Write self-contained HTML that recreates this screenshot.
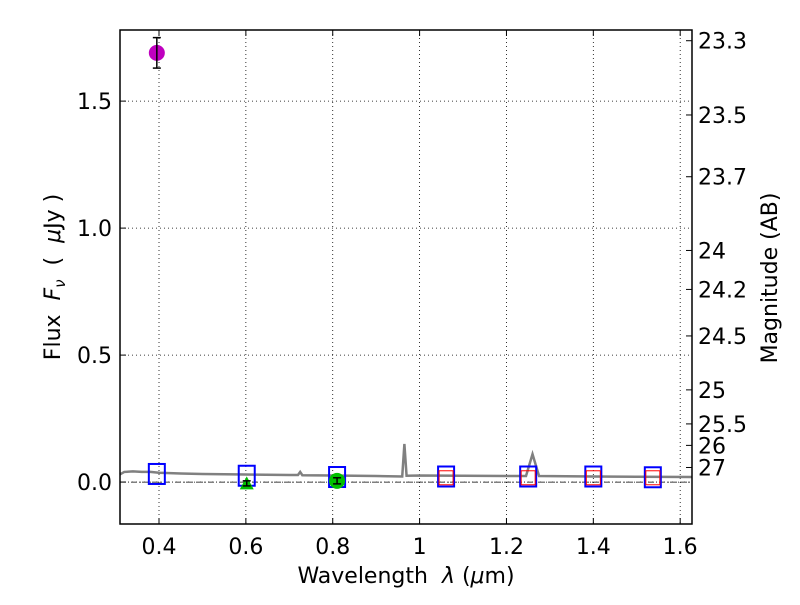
<!DOCTYPE html>
<html><head><meta charset="utf-8"><style>
body{margin:0;background:#fff}
svg text{font-family:"DejaVu Sans","Liberation Sans",sans-serif;font-size:22px;fill:#000;white-space:pre}
</style></head><body>
<svg id="c" width="800" height="600" xmlns="http://www.w3.org/2000/svg"></svg>
<script>
const specX=[0.31,0.32,0.34,0.36,0.38,0.40,0.45,0.5,0.6,0.7,0.72,0.725,0.73,0.8,0.9,0.96,0.965,0.97,1.0,1.1,1.2,1.245,1.26,1.275,1.4,1.5,1.627];
const specY=[0.03,0.04,0.042,0.04,0.04,0.037,0.034,0.032,0.03,0.028,0.028,0.04,0.027,0.026,0.024,0.022,0.15,0.025,0.026,0.025,0.024,0.024,0.11,0.024,0.022,0.021,0.02];
const blueX=[0.395,0.602,0.81,1.061,1.25,1.40,1.537];
const blueY=[0.032,0.025,0.02,0.022,0.022,0.022,0.019];
const redX=[1.061,1.25,1.40,1.537];
const redY=[0.017,0.017,0.017,0.017];
const purpleX=[0.395],purpleY=[1.69],purpleErr=[0.06];
const triX=[0.602],triY=[-0.005],triErr=[0.01];
const circX=[0.81],circY=[0.005],circErr=[0.012];
const xTicks=[0.4,0.6,0.8,1,1.2,1.4,1.6];
const xTickLabels=["0.4","0.6","0.8","1","1.2","1.4","1.6"];
const yTicks=[0,0.5,1,1.5];
const yTickLabels=["0.0","0.5","1.0","1.5"];
const magTicks=[23.3,23.5,23.7,24,24.2,24.5,25,25.5,26,27];
const L=120,R=692,T=30,B=524,xmin=0.3102,xmax=1.6272,ymin=-0.165,ymax=1.78;
const sx=v=>L+(v-xmin)/(xmax-xmin)*(R-L);
const sy=v=>B-(v-ymin)/(ymax-ymin)*(B-T);
const svg=document.getElementById('c');
function mk(t,a,p){const e=document.createElementNS('http://www.w3.org/2000/svg',t);for(const k in a)e.setAttribute(k,a[k]);(p||svg).appendChild(e);return e;}
xTicks.forEach((v,i)=>{
 const g=mk('line',{x1:sx(v),x2:sx(v),y1:T,y2:B,stroke:'#000','stroke-dasharray':'1,3','stroke-width':0.8});
 
 
 mk('line',{x1:sx(v),x2:sx(v),y1:B,y2:B-6,stroke:'#000'});
 mk('line',{x1:sx(v),x2:sx(v),y1:T,y2:T+6,stroke:'#000'});
 const t=mk('text',{x:sx(v),y:B+30,'text-anchor':'middle'});t.textContent=xTickLabels[i];
 
 
});
yTicks.forEach((v,i)=>{
 const g=mk('line',{x1:L,x2:R,y1:sy(v),y2:sy(v),stroke:'#000','stroke-dasharray':'1,3','stroke-width':0.8});
 
 
 mk('line',{x1:L,x2:L+6,y1:sy(v),y2:sy(v),stroke:'#000'});
 const t=mk('text',{x:L-8,y:sy(v)+8,'text-anchor':'end'});t.textContent=yTickLabels[i];
 
 
});
magTicks.forEach(m=>{
 const f=Math.pow(10,(23.9-m)/2.5);const y=sy(f);
 mk('line',{x1:R,x2:R-6,y1:y,y2:y,stroke:'#000'});
 const t=mk('text',{x:R+6,y:y+8});t.textContent=String(m);
 
 
});
const z=mk('line',{x1:L,x2:R,y1:sy(0),y2:sy(0),stroke:'#000','stroke-dasharray':'6,2,1,2','stroke-width':0.8});


const sp=mk('polyline',{points:specX.map((x,i)=>sx(x)+','+sy(specY[i])).join(' '),fill:'none',stroke:'#808080','stroke-width':2.5});


blueX.forEach((x,i)=>{const r=mk('rect',{x:sx(x)-8,y:sy(blueY[i])-10,width:16,height:20,fill:'none',stroke:'#0000ff','stroke-width':2});
 
 });
redX.forEach((x,i)=>{const r=mk('rect',{x:sx(x)-7,y:sy(redY[i])-7,width:14,height:14,fill:'none',stroke:'#ff0000','stroke-width':1});
 
 });
function err(x,y,e){const X=sx(x);mk('line',{x1:X,x2:X,y1:sy(y-e),y2:sy(y+e),stroke:'#000','stroke-width':1.5});
 [y-e,y+e].forEach(v=>mk('line',{x1:X-4,x2:X+4,y1:sy(v),y2:sy(v),stroke:'#000','stroke-width':1.5}));}
triX.forEach((x,i)=>{const X=sx(x),Y=sy(triY[i]);const p=mk('polygon',{points:`${X-7},${Y+6} ${X+7},${Y+6} ${X},${Y-7}`,fill:'#00c000'});
 
 err(x,triY[i],triErr[i]);});
circX.forEach((x,i)=>{const c=mk('circle',{cx:sx(x),cy:sy(circY[i]),r:8,fill:'#00c000'});
 
 err(x,circY[i],circErr[i]);});
purpleX.forEach((x,i)=>{const c=mk('circle',{cx:sx(x),cy:sy(purpleY[i]),r:8,fill:'#bf00bf'});
 
 err(x,purpleY[i],purpleErr[i]);});
const fr=mk('rect',{x:L,y:T,width:R-L,height:B-T,fill:'none',stroke:'#000','stroke-width':1.5});


</script>
<svg width="800" height="600" style="position:absolute;left:0;top:0">
<text x="406" y="583" text-anchor="middle">Wavelength  <tspan font-style="italic">λ</tspan> (<tspan font-style="italic">μ</tspan>m)</text>
<text transform="translate(60,277) rotate(-90)" text-anchor="middle">Flux  <tspan font-style="italic">F</tspan><tspan font-style="italic" font-size="15" dy="5">ν</tspan><tspan dy="-5">  (  </tspan><tspan font-style="italic">μ</tspan>Jy )</text>
<text transform="translate(777,278) rotate(-90)" text-anchor="middle">Magnitude (AB)</text>
</svg>
</body></html>
